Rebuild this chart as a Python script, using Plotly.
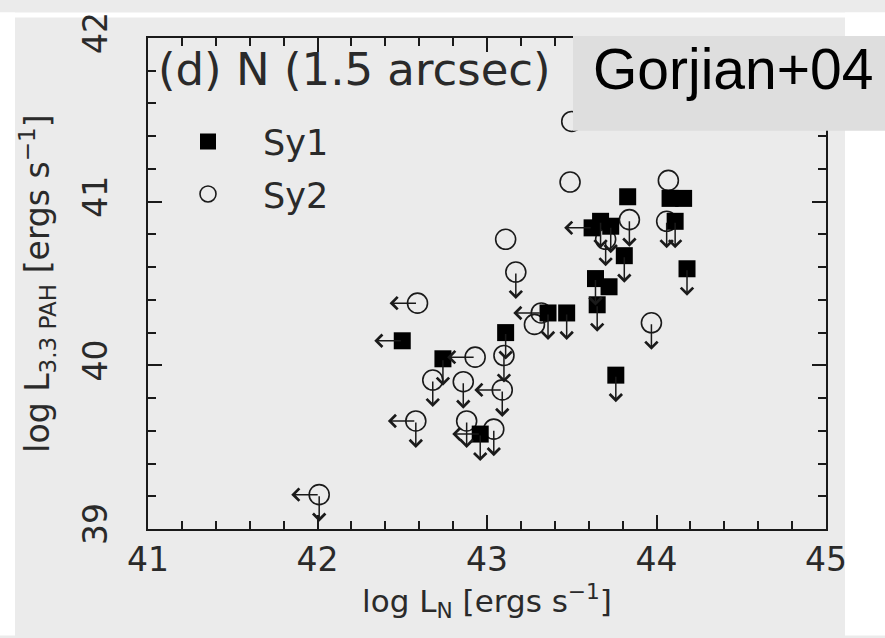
import plotly.graph_objects as go

# ---- data ----
sy1_x = [42.50, 42.74, 42.96, 43.11, 43.36, 43.47, 43.62, 43.67, 43.73, 43.83,
         43.81, 43.64, 43.72, 43.65, 43.76, 44.08, 44.16, 44.11, 44.18]
sy1_y = [40.15, 40.04, 39.58, 40.20, 40.32, 40.32, 40.84, 40.88, 40.85, 41.03,
         40.67, 40.53, 40.48, 40.37, 39.94, 41.02, 41.02, 40.88, 40.59]
sy1_left = [1, 0, 1, 0, 0, 0, 1, 0, 0, 0, 0, 0, 0, 0, 0, 0, 0, 0, 0]
sy1_down = [0, 1, 1, 1, 1, 1, 0, 1, 1, 0, 1, 1, 0, 1, 1, 0, 0, 1, 1]

sy2_x = [42.01, 42.58, 42.59, 42.68, 42.86, 42.88, 42.93, 43.04, 43.09, 43.10,
         43.11, 43.17, 43.28, 43.32, 43.49, 43.50, 43.70, 43.84, 43.97, 44.06, 44.07]
sy2_y = [39.21, 39.66, 40.38, 39.91, 39.90, 39.66, 40.05, 39.61, 39.85, 40.06,
         40.77, 40.57, 40.25, 40.32, 41.12, 41.49, 40.77, 40.89, 40.26, 40.88, 41.13]
sy2_left = [1, 1, 1, 0, 0, 0, 1, 0, 1, 0, 0, 0, 0, 1, 0, 0, 0, 0, 0, 0, 0]
sy2_down = [1, 1, 0, 1, 1, 1, 0, 1, 1, 1, 0, 1, 0, 0, 0, 0, 1, 1, 1, 1, 0]

x_ticks = [41, 42, 43, 44, 45]
y_ticks = [39, 40, 41, 42]
ARROW = 0.165  # length of limit arrows in dex

W, H = 885, 638
ML, MR, MT, MB = 148, 59, 26, 109
PW, PH = W - ML - MR, H - MT - MB


def px(x):
    return (x - ML) / PW


def py(y):
    return (H - MB - y) / PH


BG = "#ebebeb"
INK = "#1a1a1a"
TXT = "#2a2a2a"
SANS = "DejaVu Sans, sans-serif"

fig = go.Figure()
fig.add_trace(go.Scatter(
    x=sy2_x, y=sy2_y, mode="markers", name="Sy2",
    marker=dict(symbol="circle-open", size=20, color=INK, line=dict(width=1.6, color=INK)),
    legendgroup="b", legendrank=2,
))
fig.add_trace(go.Scatter(
    x=sy1_x, y=sy1_y, mode="markers", name="Sy1",
    marker=dict(symbol="square", size=17, color="#000000", line=dict(width=0)),
    legendgroup="a", legendrank=1,
))

annotations = []


def add_arrows(xs, ys, lefts, downs):
    for x, y, l, d in zip(xs, ys, lefts, downs):
        common = dict(axref="x", ayref="y", xref="x", yref="y", text="",
                      showarrow=True, arrowhead=4, arrowsize=1.6, arrowwidth=1.5,
                      arrowcolor=INK, standoff=0, startstandoff=0)
        if l:
            annotations.append(dict(x=x - ARROW, y=y, ax=x, ay=y, **common))
        if d:
            annotations.append(dict(x=x, y=y - ARROW, ax=x, ay=y, **common))


add_arrows(sy2_x, sy2_y, sy2_left, sy2_down)
add_arrows(sy1_x, sy1_y, sy1_left, sy1_down)

annotations.append(dict(
    xref="paper", yref="paper", x=px(156), y=py(58), xanchor="left", yanchor="middle",
    text="(d) N (1.5 arcsec)", showarrow=False,
    font=dict(family=SANS, size=45, color=TXT),
))
annotations.append(dict(
    xref="paper", yref="paper", x=px(733), y=py(58), xanchor="center", yanchor="middle",
    text="Gorjian+04", showarrow=False,
    font=dict(family="Liberation Sans, Arial, sans-serif", size=57, color="#000000"),
))

shapes = [
    # white margins of the scanned image
    dict(type="rect", xref="paper", yref="paper", x0=px(0), x1=px(15), y0=py(H), y1=py(0),
         fillcolor="white", line=dict(width=0), layer="below"),
    dict(type="rect", xref="paper", yref="paper", x0=px(0), x1=px(W), y0=py(5), y1=py(0),
         fillcolor="white", line=dict(width=0), layer="below"),
    dict(type="rect", xref="paper", yref="paper", x0=px(845), x1=px(W), y0=py(H), y1=py(0),
         fillcolor="white", line=dict(width=0), layer="below"),
    # label box
    dict(type="rect", xref="paper", yref="paper", x0=px(573), x1=px(W), y0=py(121), y1=py(24),
         fillcolor="#dedede", line=dict(width=0), layer="above"),
]

axis_common = dict(
    showgrid=False, zeroline=False, showline=True, linewidth=2, linecolor=INK,
    mirror="ticks", ticks="inside", ticklen=14, tickwidth=1.5, tickcolor=INK,
    tickfont=dict(family=SANS, size=33, color=TXT),
    minor=dict(ticks="inside", ticklen=8, tickwidth=1.5, tickcolor=INK, dtick=0.2, showgrid=False),
)

fig.update_layout(
    width=W, height=H,
    margin=dict(l=ML, r=MR, t=MT, b=MB, pad=0),
    paper_bgcolor=BG, plot_bgcolor=BG,
    showlegend=True,
    legend=dict(x=px(153), y=py(102), xanchor="left", yanchor="top",
                bgcolor="rgba(0,0,0,0)", font=dict(family=SANS, size=35, color=TXT),
                itemwidth=100, tracegroupgap=4, traceorder="grouped"),
    xaxis=dict(range=[41, 45], tickvals=x_ticks, ticktext=[str(v) for v in x_ticks],
               title=dict(text="log L<sub>N</sub> [ergs s<sup>\u22121</sup>]", standoff=12,
                          font=dict(family=SANS, size=31, color=TXT)),
               **axis_common),
    yaxis=dict(range=[39, 42], tickvals=y_ticks, ticktext=[str(v) for v in y_ticks],
               tickangle=-90, ticklabelstandoff=26,
               title=dict(text="log L<sub>3.3 PAH</sub> [ergs s<sup>\u22121</sup>]", standoff=16,
                          font=dict(family=SANS, size=33, color=TXT)),
               **axis_common),
    annotations=annotations,
    shapes=shapes,
)

fig.write_html("out.html")
